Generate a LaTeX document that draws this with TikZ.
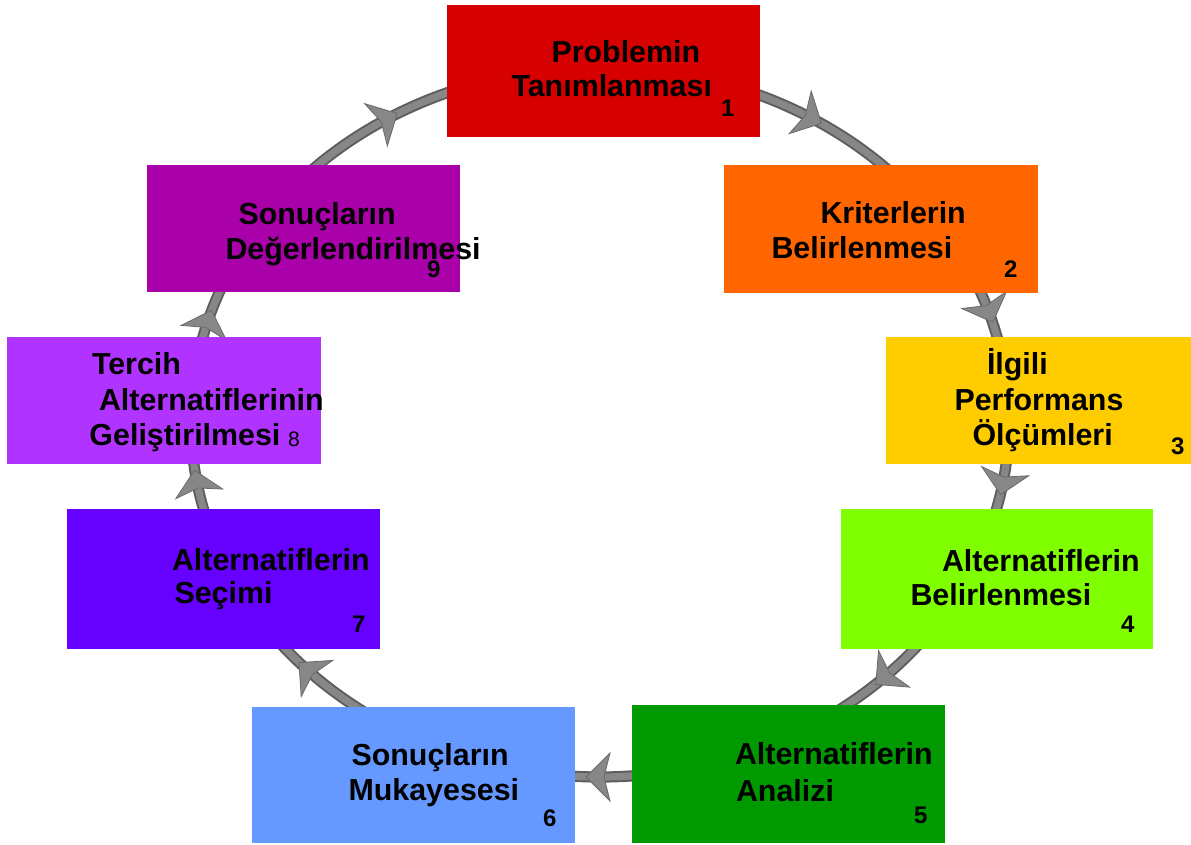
\documentclass[tikz,border=0pt]{standalone}
\usepackage{fontspec}
\setmainfont{Liberation Sans}
\usetikzlibrary{decorations.markings}
\pgfdeclarelayer{bg}
\pgfsetlayers{bg,main}
\definecolor{cA}{HTML}{D70000}
\definecolor{cB}{HTML}{FF6600}
\definecolor{cC}{HTML}{FFCC00}
\definecolor{cD}{HTML}{80FF00}
\definecolor{cE}{HTML}{009900}
\definecolor{cF}{HTML}{6699FF}
\definecolor{cG}{HTML}{6600FF}
\definecolor{cH}{HTML}{B133FF}
\definecolor{cI}{HTML}{AA00AA}
\definecolor{connedge}{HTML}{5E5E5E}
\definecolor{connfill}{HTML}{878787}
\begin{document}
\begin{tikzpicture}[x=0.5pt,y=0.5pt,
  box/.style={draw=none, inner sep=0pt, outer sep=0pt, anchor=north west},
  lbl/.style={anchor=base west, inner sep=0pt, outer sep=0pt, font=\fontsize{15.2}{17}\selectfont\bfseries},
  num/.style={anchor=base west, inner sep=0pt, outer sep=0pt, font=\fontsize{12}{14}\selectfont\bfseries},
  numlight/.style={anchor=base west, inner sep=0pt, outer sep=0pt, font=\fontsize{10.5}{12}\selectfont},
  conn/.style={line width=5.6pt, draw=connedge,
    postaction={draw=connfill, line width=3.6pt},
    postaction={decorate, decoration={markings, mark=at position 0.5 with {
      \filldraw[fill=connfill, draw=connedge!70!connfill, line width=0.4pt, line join=miter]
        (7pt,0pt) -- (-5pt,12pt) -- (-2pt,0pt) -- (-5pt,-12pt) -- cycle;}}}}
]
\useasboundingbox (0,0) rectangle (1191,-845);

% boxes
\node[box, fill=cA, minimum width=156.5pt, minimum height=66pt]   (n1) at (447,-5) {};
\node[box, fill=cB, minimum width=157pt,   minimum height=64pt]   (n2) at (724,-165) {};
\node[box, fill=cC, minimum width=154.5pt, minimum height=63.5pt] (n3) at (886,-337) {};
\node[box, fill=cD, minimum width=156pt,   minimum height=70pt]   (n4) at (841,-509) {};
\node[box, fill=cE, minimum width=156.5pt, minimum height=69pt]   (n5) at (632,-705) {};
\node[box, fill=cF, minimum width=161.5pt, minimum height=68pt]   (n6) at (252,-707) {};
\node[box, fill=cG, minimum width=156.5pt, minimum height=70pt]   (n7) at (67,-509) {};
\node[box, fill=cH, minimum width=157pt,   minimum height=63.5pt] (n8) at (7,-337) {};
\node[box, fill=cI, minimum width=156.5pt, minimum height=63.5pt] (n9) at (147,-165) {};

% connectors (elliptical ring behind the boxes)
\coordinate (s12) at ({600+409*cos(75)},   {-422+355*sin(75)});
\coordinate (s23) at ({600+409*cos(30.4)}, {-422+355*sin(30.4)});
\coordinate (s34) at ({600+409*cos(2.5)},  {-422+355*sin(2.5)});
\coordinate (s45) at ({600+409*cos(-31.3)},{-422+355*sin(-31.3)});
\coordinate (s56) at ({600+409*cos(-78)},  {-422+355*sin(-78)});
\coordinate (s67) at ({600+409*cos(-121.5)},{-422+355*sin(-121.5)});
\coordinate (s78) at ({600+409*cos(-158)}, {-422+355*sin(-158)});
\coordinate (s89) at ({600+409*cos(176)},  {-422+355*sin(176)});
\coordinate (s91) at ({600+409*cos(138)},  {-422+355*sin(138)});
\begin{pgfonlayer}{bg}
\fill[white] (0,0) rectangle (1191,-845);
\draw[conn] (s12) arc[start angle=75,    end angle=43,     x radius=409, y radius=355];
\draw[conn] (s23) arc[start angle=30.4,  end angle=6.4,    x radius=409, y radius=355];
\draw[conn] (s34) arc[start angle=2.5,   end angle=-21.5,  x radius=409, y radius=355];
\draw[conn] (s45) arc[start angle=-31.3, end angle=-59.3,  x radius=409, y radius=355];
\draw[conn] (s56) arc[start angle=-78,   end angle=-102,   x radius=409, y radius=355];
\draw[conn] (s67) arc[start angle=-121.5,end angle=-149.5, x radius=409, y radius=355];
\draw[conn] (s78) arc[start angle=-158,  end angle=-182,   x radius=409, y radius=355];
\draw[conn] (s89) arc[start angle=176,   end angle=152,    x radius=409, y radius=355];
\draw[conn] (s91) arc[start angle=138,   end angle=106,    x radius=409, y radius=355];
\end{pgfonlayer}

% labels
\node[lbl] (l1a) at (551.5,-63) {Problemin};
\node[lbl] (l1b) at (511.5,-97) {Tanımlanması};
\node[num] (l1n) at (721,-117) {1};

\node[lbl] (l2a) at (820.5,-224) {Kriterlerin};
\node[lbl] (l2b) at (771.5,-259) {Belirlenmesi};
\node[num] (l2n) at (1004,-278) {2};

\node[lbl] (l3a) at (987,-375) {İlgili};
\node[lbl] (l3b) at (954.5,-411) {Performans};
\node[lbl] (l3c) at (972.5,-446) {Ölçümleri};
\node[num] (l3n) at (1171,-455) {3};

\node[lbl] (l4a) at (942,-572) {Alternatiflerin};
\node[lbl] (l4b) at (910.5,-606) {Belirlenmesi};
\node[num] (l4n) at (1121,-633) {4};

\node[lbl] (l5a) at (735,-765) {Alternatiflerin};
\node[lbl] (l5b) at (736,-802) {Analizi};
\node[num] (l5n) at (914,-823) {5};

\node[lbl] (l6a) at (351.5,-766) {Sonuçların};
\node[lbl] (l6b) at (348.5,-800) {Mukayesesi};
\node[num] (l6n) at (543,-827) {6};

\node[lbl] (l7a) at (172,-571) {Alternatiflerin};
\node[lbl] (l7b) at (174.5,-604) {Seçimi};
\node[num] (l7n) at (352,-633) {7};

\node[lbl] (l8a) at (92,-375) {Tercih};
\node[lbl] (l8b) at (99,-411) {Alternatiflerinin};
\node[lbl] (l8c) at (89.5,-446) {Geliştirilmesi};
\node[numlight] (l8n) at (288,-447) {8};

\node[num] (l9n) at (427,-278) {9};
\node[lbl] (l9a) at (238.5,-225) {Sonuçların};
\node[lbl] (l9b) at (225.5,-260) {Değerlendirilmesi};
\end{tikzpicture}
\end{document}
